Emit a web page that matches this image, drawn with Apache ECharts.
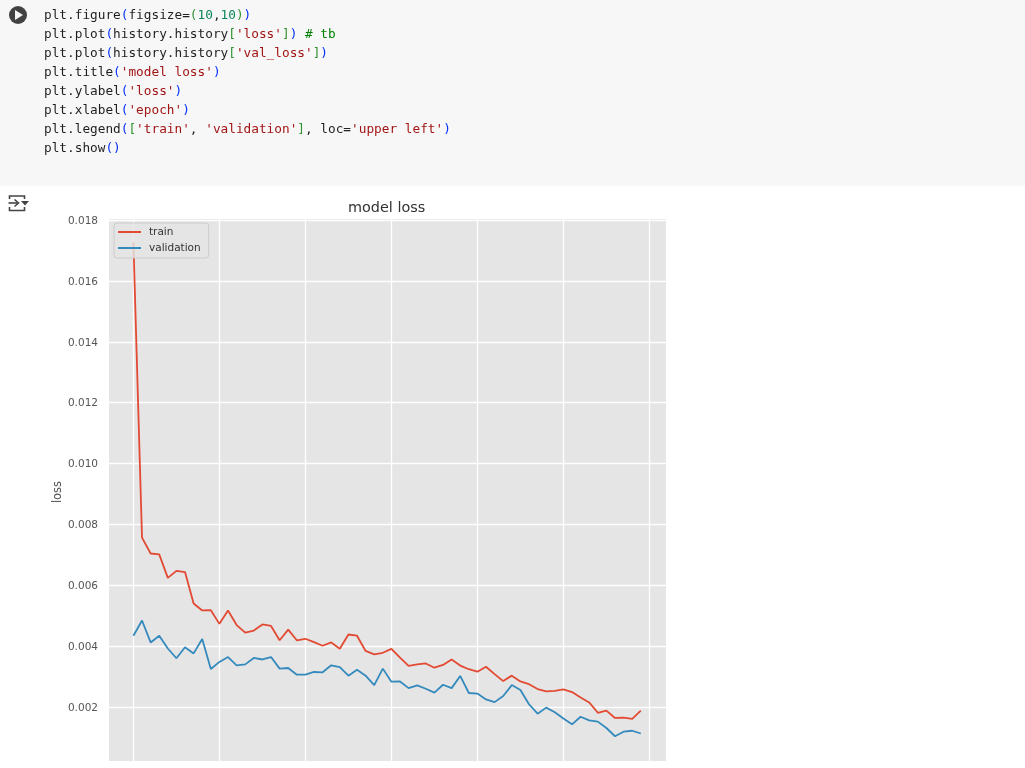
<!DOCTYPE html>
<html>
<head>
<meta charset="utf-8">
<style>html,body{margin:0;padding:0;background:#fff;overflow:hidden}#c{width:1025px;height:768px}</style>
<script src="https://cdn.jsdelivr.net/npm/echarts@6/dist/echarts.min.js"></script>
</head>
<body>
<div id="c"></div>
<script>
const trainLoss = [0.01726,0.00757,0.00705,0.00702,0.00625,0.00648,0.00644,0.00541,0.00518,0.00519,
  0.00474,0.00518,0.00470,0.00445,0.00452,0.00472,0.00467,0.00420,0.00455,0.00420,
  0.00425,0.00414,0.00402,0.00413,0.00392,0.00439,0.00435,0.00385,0.00374,0.00379,
  0.00392,0.00363,0.00336,0.00341,0.00344,0.00330,0.00339,0.00357,0.00337,0.00325,
  0.00317,0.00333,0.00309,0.00286,0.00304,0.00285,0.00276,0.00260,0.00252,0.00254,
  0.00259,0.00250,0.00232,0.00216,0.00182,0.00189,0.00165,0.00166,0.00162,0.00189];
const valLoss = [0.00435,0.00485,0.00413,0.00435,0.00393,0.00361,0.00397,0.00377,0.00424,0.00326,
  0.00349,0.00365,0.00338,0.00341,0.00362,0.00357,0.00365,0.00327,0.00329,0.00307,
  0.00307,0.00316,0.00315,0.00338,0.00332,0.00304,0.00323,0.00304,0.00273,0.00327,
  0.00284,0.00285,0.00263,0.00272,0.00261,0.00248,0.00274,0.00263,0.00303,0.00247,
  0.00245,0.00226,0.00217,0.00237,0.00273,0.00257,0.00210,0.00179,0.00199,0.00184,
  0.00163,0.00144,0.00169,0.00157,0.00153,0.00132,0.00105,0.00120,0.00123,0.00114];
const xTicks = [0,10,20,30,40,50,60];
const yTicks = [0.002,0.004,0.006,0.008,0.010,0.012,0.014,0.016,0.018];
const seriesNames = ['train','validation'];
const titleText = 'model loss';
const yName = 'loss';

// code cell: [style, text] tokens per line
const codeLines = [
 [['d','plt.figure'],['b','('],['d','figsize='],['g','('],['n','10'],['d',','],['n','10'],['g',')'],['b',')']],
 [['d','plt.plot'],['b','('],['d','history.history'],['g','['],['s',"'loss'"],['g',']'],['b',')'],['d',' '],['c','# tb']],
 [['d','plt.plot'],['b','('],['d','history.history'],['g','['],['s',"'val_loss'"],['g',']'],['b',')']],
 [['d','plt.title'],['b','('],['s',"'model loss'"],['b',')']],
 [['d','plt.ylabel'],['b','('],['s',"'loss'"],['b',')']],
 [['d','plt.xlabel'],['b','('],['s',"'epoch'"],['b',')']],
 [['d','plt.legend'],['b','('],['g','['],['s',"'train'"],['d',', '],['s',"'validation'"],['g',']'],['d',', loc='],['s',"'upper left'"],['b',')']],
 [['d','plt.show'],['b','()']]
];
const mono = {fontFamily:'DejaVu Sans Mono',fontSize:12.75};
const rich = {
  d:{...mono,fill:'#1f1f1f'},
  b:{...mono,fill:'#0431fa'},
  g:{...mono,fill:'#319331'},
  n:{...mono,fill:'#098658'},
  s:{...mono,fill:'#a31515'},
  c:{...mono,fill:'#008000'}
};
const codeGraphics = codeLines.map((toks,i)=>({
  type:'text',left:44,top:6+i*19,z:5,silent:true,
  style:{text:toks.map(t=>`{${t[0]}|${t[1].replace(/ /g,'\u00a0')}}`).join(''),rich,fontFamily:'DejaVu Sans Mono',fontSize:12.75,lineHeight:19}
}));

const chart = echarts.init(document.getElementById('c'),null,{renderer:'canvas'});
const F = 'DejaVu Sans';
chart.setOption({
  animation:false,
  backgroundColor:'#ffffff',
  title:{text:titleText,left:348,top:201,padding:0,
    textStyle:{fontFamily:F,fontSize:14.4,fontWeight:'normal',color:'#333'}},
  grid:{left:109,top:219,width:557,height:542,containLabel:false,
    backgroundColor:'#e5e5e5',show:true,borderWidth:0},
  legend:{left:114,top:223,orient:'vertical',padding:[2,8,3,4],
    icon:'rect',itemWidth:23,itemHeight:2,itemGap:2,
    backgroundColor:'rgba(229,229,229,0.8)',borderColor:'#cccccc',borderWidth:1,borderRadius:3,
    textStyle:{fontFamily:F,fontSize:10.5,color:'#333',lineHeight:14,padding:[0,0,0,3]},
    data:seriesNames},
  xAxis:{type:'value',min:-2.84,max:61.93,
    axisLine:{show:false},
    axisTick:{show:false,customValues:xTicks},
    axisLabel:{show:false,customValues:xTicks},
    splitLine:{show:true,lineStyle:{color:'#ffffff',width:1.3}}},
  yAxis:{type:'value',min:0.000237,max:0.018033,
    name:yName,nameLocation:'middle',nameGap:45,nameMoveOverlap:false,
    nameTextStyle:{fontFamily:F,fontSize:11.5,color:'#555',padding:[0,4,0,0]},
    axisLine:{show:false},
    axisTick:{show:false,customValues:yTicks},
    axisLabel:{customValues:yTicks,margin:11,
      formatter:v=>`{t|${v.toFixed(3)}}`,
      rich:{t:{fontFamily:F,fontSize:10.5,color:'#555',padding:[2,0,0,0]}}},
    splitLine:{show:true,lineStyle:{color:'#ffffff',width:1.3}}},
  series:[
    {name:seriesNames[0],type:'line',symbol:'none',data:trainLoss.map((v,i)=>[i,v]),
     color:'#E24A33',lineStyle:{color:'#E24A33',width:1.8},emphasis:{disabled:true}},
    {name:seriesNames[1],type:'line',symbol:'none',data:valLoss.map((v,i)=>[i,v]),
     color:'#348ABD',lineStyle:{color:'#348ABD',width:1.8},emphasis:{disabled:true}}
  ],
  graphic:[
    {type:'rect',left:0,top:0,z:-1,silent:true,shape:{width:1025,height:186},style:{fill:'#f7f7f7'}},
    {type:'circle',z:4,silent:true,shape:{cx:18,cy:15,r:9},style:{fill:'#424242'}},
    {type:'polygon',z:5,silent:true,shape:{points:[[15,10],[15,20],[23,15]]},style:{fill:'#f7f7f7'}},
    {type:'polyline',z:4,silent:true,shape:{points:[[9.5,199],[9.5,196],[24.5,196],[24.5,199]]},style:{fill:'none',stroke:'#444',lineWidth:1.6}},
    {type:'polyline',z:4,silent:true,shape:{points:[[9.5,207],[9.5,210.5],[24.5,210.5],[24.5,207]]},style:{fill:'none',stroke:'#444',lineWidth:1.6}},
    {type:'polyline',z:4,silent:true,shape:{points:[[8.5,203],[18,203]]},style:{fill:'none',stroke:'#444',lineWidth:1.6}},
    {type:'polyline',z:4,silent:true,shape:{points:[[14.5,199.5],[18.5,203],[14.5,206.5]]},style:{fill:'none',stroke:'#444',lineWidth:1.6}},
    {type:'polygon',z:4,silent:true,shape:{points:[[21,201],[29,201],[25,205.5]]},style:{fill:'#444'}},
    ...codeGraphics
  ]
});
</script>
</body>
</html>
